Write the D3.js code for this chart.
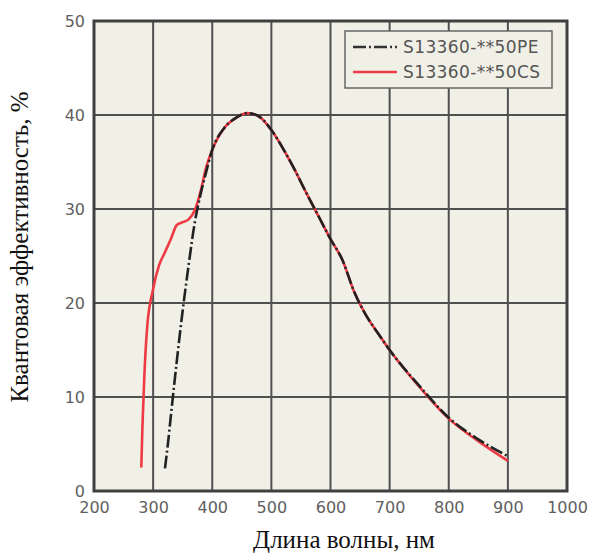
<!DOCTYPE html>
<html>
<head>
<meta charset="utf-8">
<script src="https://cdn.jsdelivr.net/npm/d3@7"></script>
<style>
  html, body { margin: 0; padding: 0; background: #fff; }
  #chart { width: 590px; height: 553px; }
</style>
</head>
<body>
<div id="chart"></div>
<script>
// -------------------------------
// Data
// -------------------------------
const xTicks = [200, 300, 400, 500, 600, 700, 800, 900, 1000];
const yTicks = [0, 10, 20, 30, 40, 50];

const peWavelength = [320, 325, 330, 340, 350, 360, 370, 380, 390, 400, 420, 440, 460, 480, 500, 520, 540, 560, 580, 600, 620, 640, 660, 680, 700, 750, 800, 850, 900];
const peQE = [2.4, 5.0, 8.0, 13.8, 19.2, 24.0, 28.4, 31.5, 34.0, 36.3, 38.6, 39.7, 40.2, 39.8, 38.4, 36.4, 34.1, 31.6, 29.2, 26.8, 24.6, 21.2, 18.7, 16.8, 15.0, 11.2, 7.8, 5.5, 3.7];

const csWavelength = [280, 282, 285, 290, 300, 310, 320, 330, 340, 350, 360, 370, 380, 390, 400, 420, 440, 460, 480, 500, 520, 540, 560, 580, 600, 620, 640, 660, 680, 700, 750, 800, 850, 900];
const csQE = [2.5, 7.0, 12.0, 17.5, 21.5, 24.0, 25.4, 26.8, 28.3, 28.6, 28.9, 29.8, 31.8, 34.5, 36.3, 38.6, 39.7, 40.2, 39.8, 38.4, 36.4, 34.1, 31.6, 29.2, 26.8, 24.6, 21.2, 18.7, 16.8, 15.0, 11.1, 7.7, 5.3, 3.2];

const seriesNames = ["S13360-**50PE", "S13360-**50CS"];

// -------------------------------
// Layout
// -------------------------------
const svgWidth = 590;
const svgHeight = 553;
const plot = { left: 94, top: 21, right: 567, bottom: 491 };

const svg = d3.select("#chart")
  .append("svg")
  .attr("width", svgWidth)
  .attr("height", svgHeight);

// -------------------------------
// Scales
// -------------------------------
const xScale = d3.scaleLinear().domain([200, 1000]).range([plot.left, plot.right]);
const yScale = d3.scaleLinear().domain([0, 50]).range([plot.bottom, plot.top]);

// background
svg.append("rect")
  .attr("x", plot.left).attr("y", plot.top)
  .attr("width", plot.right - plot.left)
  .attr("height", plot.bottom - plot.top)
  .attr("fill", "#f1f0e7");

// grid
const gridColor = "#505050";
svg.append("g")
  .selectAll("line")
  .data(xTicks.slice(1, -1))
  .join("line")
  .attr("x1", d => xScale(d)).attr("x2", d => xScale(d))
  .attr("y1", plot.top).attr("y2", plot.bottom)
  .attr("stroke", gridColor).attr("stroke-width", 2);

svg.append("g")
  .selectAll("line")
  .data(yTicks.slice(1, -1))
  .join("line")
  .attr("y1", d => yScale(d)).attr("y2", d => yScale(d))
  .attr("x1", plot.left).attr("x2", plot.right)
  .attr("stroke", gridColor).attr("stroke-width", 2);

// frame
svg.append("rect")
  .attr("x", plot.left).attr("y", plot.top)
  .attr("width", plot.right - plot.left)
  .attr("height", plot.bottom - plot.top)
  .attr("fill", "none")
  .attr("stroke", "#404040")
  .attr("stroke-width", 3);

// -------------------------------
// Axes (tick labels only)
// -------------------------------
const xAxis = svg.append("g")
  .attr("transform", `translate(0, ${plot.bottom})`)
  .call(d3.axisBottom(xScale).tickValues(xTicks).tickSize(0).tickPadding(11).tickFormat(d3.format("d")));
const yAxis = svg.append("g")
  .attr("transform", `translate(${plot.left}, 0)`)
  .call(d3.axisLeft(yScale).tickValues(yTicks).tickSize(0).tickPadding(9).tickFormat(d3.format("d")));

[xAxis, yAxis].forEach(ax => {
  ax.select(".domain").remove();
  ax.selectAll("text")
    .attr("font-family", "DejaVu Sans, Verdana, sans-serif")
    .attr("font-size", 16)
    .attr("fill", "#606060");
});

// -------------------------------
// Lines
// -------------------------------
const lineGen = d3.line()
  .x(d => xScale(d[0]))
  .y(d => yScale(d[1]))
  .curve(d3.curveMonotoneX);

const csPoints = d3.zip(csWavelength, csQE);
const pePoints = d3.zip(peWavelength, peQE);

svg.append("path")
  .datum(csPoints)
  .attr("d", lineGen)
  .attr("fill", "none")
  .attr("stroke", "#ee3a44")
  .attr("stroke-width", 2.6);

svg.append("path")
  .datum(pePoints)
  .attr("d", lineGen)
  .attr("fill", "none")
  .attr("stroke", "#222")
  .attr("stroke-width", 2.6)
  .attr("stroke-dasharray", "13,3,2,3");

// -------------------------------
// Legend
// -------------------------------
const legend = svg.append("g").attr("transform", "translate(345, 31)");
legend.append("rect")
  .attr("width", 207).attr("height", 57)
  .attr("fill", "#f1f0e7")
  .attr("stroke", "#666").attr("stroke-width", 1.5);

const legendItems = [
  { name: seriesNames[0], color: "#333", dash: "13,3,2,3" },
  { name: seriesNames[1], color: "#ee3a44", dash: null }
];
legendItems.forEach((item, i) => {
  const y = 16 + i * 25;
  legend.append("line")
    .attr("x1", 8).attr("x2", 52)
    .attr("y1", y).attr("y2", y)
    .attr("stroke", item.color)
    .attr("stroke-width", 2.6)
    .attr("stroke-dasharray", item.dash);
  legend.append("text")
    .attr("x", 58).attr("y", y)
    .attr("dy", "0.35em")
    .attr("font-family", "DejaVu Sans, Verdana, sans-serif")
    .attr("font-size", 17)
    .attr("letter-spacing", 0.4)
    .attr("fill", "#555")
    .text(item.name);
});

// -------------------------------
// Axis titles
// -------------------------------
svg.append("text")
  .attr("x", 344).attr("y", 548)
  .attr("text-anchor", "middle")
  .attr("font-family", "Liberation Serif, Times New Roman, serif")
  .attr("font-size", 25)
  .attr("fill", "#111")
  .text("Длина волны, нм");

svg.append("text")
  .attr("transform", "translate(28, 247) rotate(-90)")
  .attr("text-anchor", "middle")
  .attr("font-family", "Liberation Serif, Times New Roman, serif")
  .attr("font-size", 25)
  .attr("fill", "#111")
  .text("Квантовая эффективность, %");
</script>
</body>
</html>
